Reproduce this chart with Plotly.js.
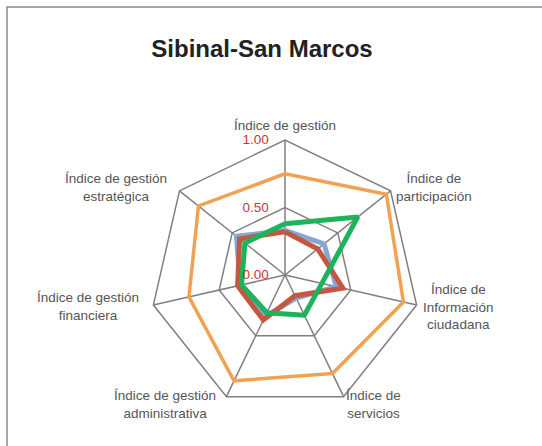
<!DOCTYPE html>
<html>
<head>
<meta charset="utf-8">
<script src="https://cdn.plot.ly/plotly-3.0.1.min.js"></script>
<style>
  html, body { margin: 0; padding: 0; background: #fff; }
  #chart { width: 542px; height: 446px; }
</style>
</head>
<body>
<div id="chart"></div>
<script>
// Category labels (clockwise from top)
const categories = [
  'Índice de gestión',
  'Índice de<br>participación',
  'Índice de<br>Información<br>ciudadana',
  'Índice de<br>servicios',
  'Índice de gestión<br>administrativa',
  'Índice de gestión<br>financiera',
  'Índice de gestión<br>estratégica'
];

// Series values
const serieNaranja = [0.75, 0.96, 0.90, 0.81, 0.87, 0.73, 0.82];
const serieAzul    = [0.33, 0.37, 0.39, 0.19, 0.34, 0.34, 0.46];
const serieRoja    = [0.32, 0.31, 0.44, 0.17, 0.37, 0.36, 0.43];
const serieVerde   = [0.38, 0.69, 0.28, 0.33, 0.31, 0.33, 0.38];

const radialTicks = [0, 0.5, 1];

const GRID = '#808080';
const LABEL_FONT = 'Liberation Sans, Arial, sans-serif';

// close the polygon
function closed(arr) { return arr.concat([arr[0]]); }

function trace(values, color, width) {
  return {
    type: 'scatterpolar',
    r: closed(values),
    theta: closed(categories),
    mode: 'lines',
    line: { color: color, width: width },
    hoverinfo: 'skip'
  };
}

const data = [
  trace(serieNaranja, '#F0A254', 3.5),
  trace(serieAzul, '#82A8D8', 5),
  trace(serieRoja, '#C4573F', 5),
  trace(serieVerde, '#1EB35A', 5)
];

// polar centre (285,275), radius 135 px
const W = 542, H = 446, CX = 285, CY = 275, R = 135;

// where each category label sits (pixel centre), same order as categories
const labelPos = [
  [285, 126], [434, 187], [458, 307], [373, 404],
  [165, 404], [88, 306], [116, 187]
];

const annotations = categories.map((c, i) => ({
  text: c,
  xref: 'paper', yref: 'paper',
  x: labelPos[i][0] / W, y: 1 - labelPos[i][1] / H,
  xanchor: 'center', yanchor: 'middle', align: 'center',
  showarrow: false,
  font: { family: LABEL_FONT, size: 13.5, color: '#555' }
}));

const layout = {
  width: W,
  height: H,
  margin: { l: 0, r: 0, t: 0, b: 0 },
  paper_bgcolor: '#fff',
  showlegend: false,
  title: {
    text: '<b>Sibinal-San Marcos</b>',
    font: { family: LABEL_FONT, size: 24, color: '#222' },
    x: 262 / W, xanchor: 'center',
    y: 1 - 49 / H, yanchor: 'middle'
  },
  polar: {
    domain: {
      x: [(CX - R) / W, (CX + R) / W],
      y: [(H - CY - R) / H, (H - CY + R) / H]
    },
    gridshape: 'linear',
    bgcolor: '#fff',
    angularaxis: {
      direction: 'clockwise',
      rotation: 90,
      showline: true,
      linecolor: GRID,
      linewidth: 1.5,
      gridcolor: GRID,
      gridwidth: 1.5,
      ticks: '',
      showticklabels: false
    },
    radialaxis: {
      range: [0, 1],
      tickvals: radialTicks,
      tickformat: '.2f',
      angle: 90,
      side: 'counterclockwise',
      tickangle: 90,
      showline: false,
      gridcolor: GRID,
      gridwidth: 1.5,
      ticks: 'outside',
      ticklen: 11,
      tickcolor: 'rgba(0,0,0,0)',
      tickfont: { family: LABEL_FONT, size: 13.5, color: '#C8323C' }
    }
  },
  annotations: annotations,
  shapes: [{
    type: 'rect', xref: 'paper', yref: 'paper',
    x0: 7 / W, x1: 1.02, y0: -0.02, y1: 1 - 7 / H,
    line: { color: '#8c8c8c', width: 1.5 }
  }]
};

Plotly.newPlot('chart', data, layout, { displayModeBar: false, staticPlot: true });
</script>
</body>
</html>
